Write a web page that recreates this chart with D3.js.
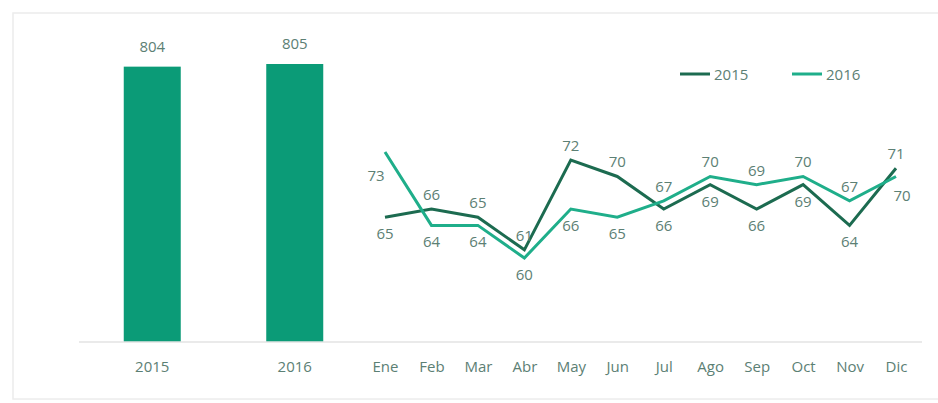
<!DOCTYPE html>
<html>
<head>
<meta charset="utf-8">
<script src="https://cdn.jsdelivr.net/npm/d3@7"></script>
<style>
  body { margin: 0; background: #fff; }
  svg text { font-family: "Open Sans", sans-serif; fill: #5c8074; }
</style>
</head>
<body>
<div class="chart"></div>
<script>
const years = ['2015', '2016']
const totals = [804, 805]
const months = ['Ene','Feb','Mar','Abr','May','Jun','Jul','Ago','Sep','Oct','Nov','Dic']
const values2015 = [65, 66, 65, 61, 72, 70, 66, 69, 66, 69, 64, 71]
const values2016 = [73, 64, 64, 60, 66, 65, 67, 70, 69, 70, 67, 70]

let w = 938,
    h = 403,
    baseY = 342,
    fs = 15;

const svg = d3.select('.chart')
              .append('svg')
              .attr('width', w)
              .attr('height', h)

// card with a soft left shadow
const defs = svg.append('defs')
defs.append('filter').attr('id', 'blur')
    .append('feGaussianBlur').attr('stdDeviation', 1.2)

svg.append('rect')
   .attr('x', 13).attr('y', 13)
   .attr('width', 940).attr('height', 386)
   .attr('fill', '#fff')
   .attr('stroke', '#ececec')
   .attr('stroke-width', 1.5)
svg.append('line')
   .attr('x1', 12).attr('x2', 12)
   .attr('y1', 14).attr('y2', 400)
   .attr('stroke', '#cfcfcf')
   .attr('stroke-width', 3)
   .attr('filter', 'url(#blur)')

// ---- left: bar chart of yearly totals
const xBar = d3.scaleBand()
               .domain(years)
               .range([81, 366])
               .paddingInner(0.6)
               .paddingOuter(0.3)

const yBar = d3.scaleLinear()
               .domain([700, 805])
               .range([baseY, 64])

svg.selectAll('.bar')
   .data(totals)
   .enter()
   .append('rect')
   .attr('class', 'bar')
   .attr('x', (d, i) => xBar(years[i]))
   .attr('y', d => yBar(d))
   .attr('width', xBar.bandwidth())
   .attr('height', d => baseY - yBar(d))
   .attr('fill', '#0b9b77')

svg.selectAll('.barLabel')
   .data(totals)
   .enter()
   .append('text')
   .attr('class', 'barLabel')
   .attr('x', (d, i) => xBar(years[i]) + xBar.bandwidth() / 2)
   .attr('y', d => yBar(d) - 15)
   .attr('text-anchor', 'middle')
   .attr('font-size', fs)
   .text(d => d)

const xBarAxis = svg.append('g')
   .attr('transform', `translate(0,${baseY})`)
   .call(d3.axisBottom(xBar).tickSize(0).tickPadding(19))
xBarAxis.select('.domain').remove()
xBarAxis.selectAll('text').attr('font-size', fs).attr('font-family', null).attr('fill', null)

// shared baseline
svg.append('line')
   .attr('x1', 79).attr('x2', 922)
   .attr('y1', baseY).attr('y2', baseY)
   .attr('stroke', '#e3e3e3')
   .attr('stroke-width', 1.5)

// ---- right: monthly lines
const xLine = d3.scalePoint()
                .domain(months)
                .range([385, 896])

const yLine = d3.scaleLinear()
                .domain([60, 73])
                .range([258, 152])

const line = d3.line()
               .x((d, i) => xLine(months[i]))
               .y(d => yLine(d))

const series = [
  { name: '2015', values: values2015, other: values2016, color: '#1c6b50' },
  { name: '2016', values: values2016, other: values2015, color: '#1fae8a' }
]

series.forEach(s => {
  svg.append('path')
     .datum(s.values)
     .attr('d', line)
     .attr('fill', 'none')
     .attr('stroke', s.color)
     .attr('stroke-width', 3)
})

series.forEach(s => {
  svg.selectAll(null)
     .data(s.values)
     .enter()
     .append('text')
     .attr('font-size', fs)
     .attr('text-anchor', 'middle')
     .attr('dominant-baseline', 'central')
     .attr('x', (d, i) => {
        let x = xLine(months[i])
        if (s.name === '2016' && i === 0) x -= 9
        if (s.name === '2016' && i === months.length - 1) x += 6
        return x
     })
     .attr('y', (d, i) => {
        const y = yLine(d)
        if (s.name === '2016' && i === 0) return y + 23
        if (s.name === '2016' && i === months.length - 1) return y + 19
        return d >= s.other[i] && !(s.name === '2016' && d === s.other[i]) ? y - 15 : y + 16
     })
     .text(d => d)
})

const xMonthAxis = svg.append('g')
   .attr('transform', `translate(0,${baseY})`)
   .call(d3.axisBottom(xLine).tickSize(0).tickPadding(19))
xMonthAxis.select('.domain').remove()
xMonthAxis.selectAll('text').attr('font-size', fs).attr('font-family', null).attr('fill', null)

// legend
const legend = svg.selectAll('.legend')
   .data(series)
   .enter()
   .append('g')
   .attr('class', 'legend')
   .attr('transform', (d, i) => `translate(${680 + i * 112},74)`)
legend.append('line')
   .attr('x1', 0).attr('x2', 30)
   .attr('stroke', d => d.color)
   .attr('stroke-width', 3)
legend.append('text')
   .attr('x', 34)
   .attr('dominant-baseline', 'central')
   .attr('font-size', fs)
   .text(d => d.name)
</script>
</body>
</html>
